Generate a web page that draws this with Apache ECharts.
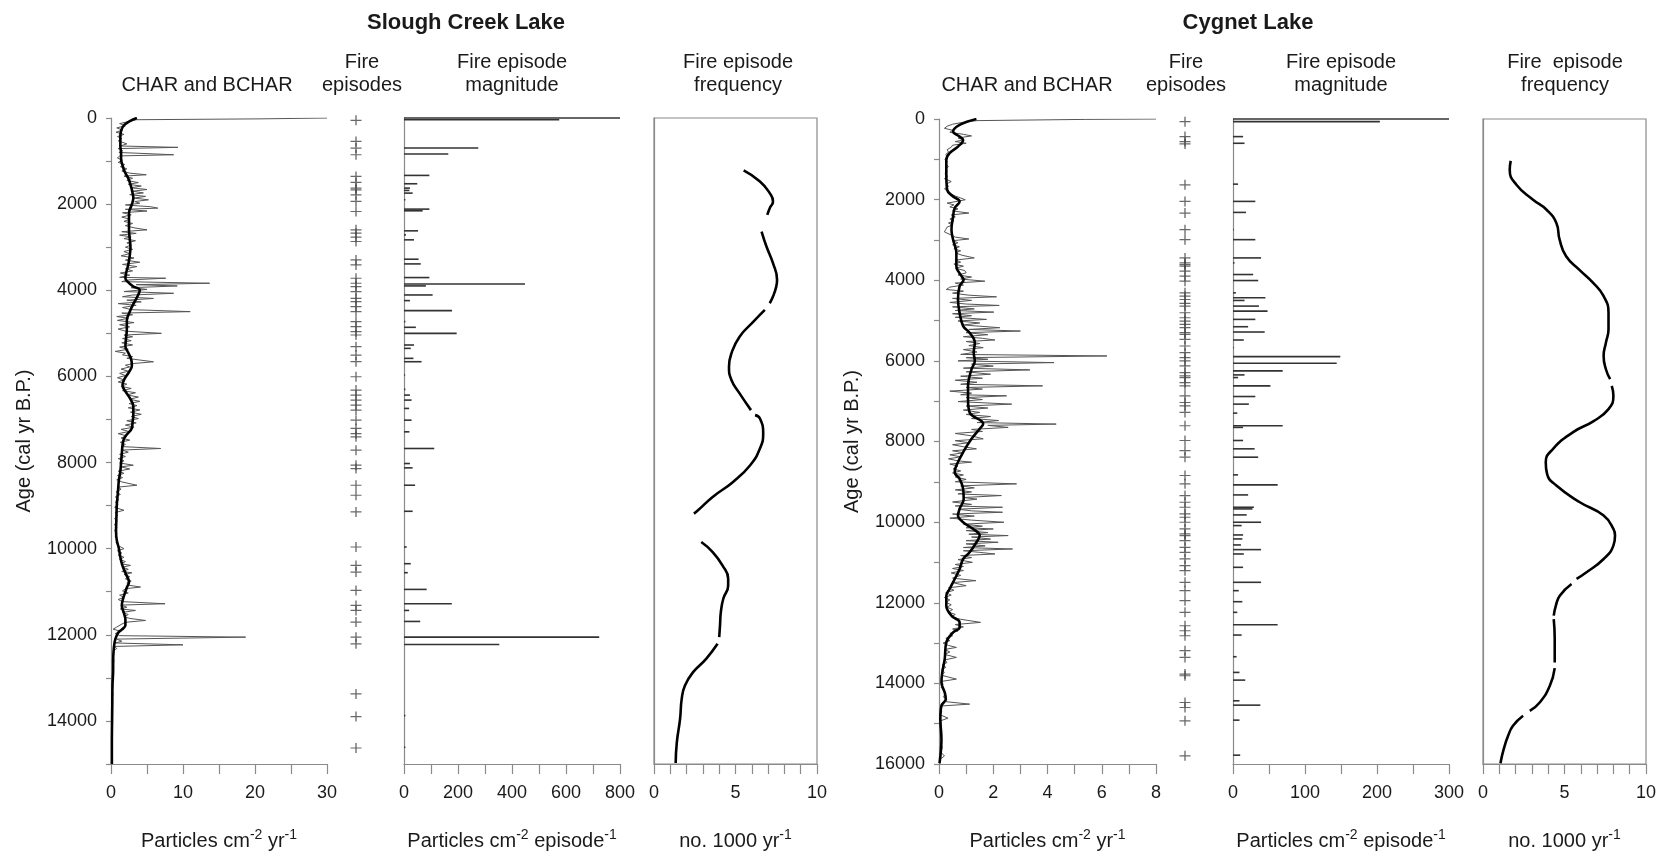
<!DOCTYPE html>
<html lang="en">
<head>
<meta charset="UTF-8">
<title>Slough Creek Lake / Cygnet Lake fire history</title>
<style>
  * { margin: 0; padding: 0; }
  body { background: #fff; }
  #main { width: 1663px; height: 851px; }
</style>
</head>
<body>
<div id="main"></div>
<script src="https://cdn.jsdelivr.net/npm/echarts@6/dist/echarts.min.js"></script>
<script>
// ---- data: [age (cal yr BP), value] ----
var sloughChar = [[0,30],[20,20.7],[40,3.5],[80,2.5],[130,1.2],[180,2.0],[230,0.8],[280,1.6],[330,0.7],[380,1.8],[430,0.9],[480,1.5],[530,1.0],[600,2.2],[650,1.3],[682,9.3],[710,1.0],[760,1.6],[800,1.1],[853,8.7],[880,1.2],[930,0.9],[980,1.6],[1030,1.0],[1080,1.9],[1130,1.3],[1180,2.2],[1230,1.5],[1280,2.6],[1318,4.9],[1350,1.8],[1400,3.0],[1450,2.2],[1500,3.8],[1540,2.4],[1580,4.2],[1620,2.8],[1660,5.0],[1700,3.0],[1740,4.5],[1780,2.6],[1820,4.8],[1860,3.2],[1900,5.2],[1940,3.3],[1980,4.0],[2020,2.0],[2060,5.5],[2093,6.5],[2120,2.0],[2160,5.0],[2200,1.6],[2250,2.8],[2300,1.5],[2350,2.6],[2400,1.8],[2450,3.0],[2500,2.0],[2550,3.2],[2597,5.0],[2640,1.5],[2680,3.5],[2720,1.2],[2760,2.8],[2800,1.8],[2850,3.4],[2900,2.2],[2950,2.8],[3000,2.0],[3050,3.0],[3100,1.8],[3150,2.6],[3200,1.4],[3250,3.2],[3300,2.0],[3350,4.0],[3400,1.6],[3450,3.6],[3500,2.0],[3550,3.0],[3600,1.3],[3650,2.6],[3700,1.2],[3720,7.6],[3760,2.5],[3800,1.5],[3837,13.7],[3870,3.5],[3900,9.2],[3940,2.8],[3980,5.0],[4030,1.8],[4070,8.7],[4110,3.0],[4150,1.6],[4190,5.9],[4230,2.2],[4270,4.2],[4310,1.0],[4350,3.5],[4400,1.6],[4450,2.8],[4496,11.0],[4530,1.5],[4570,3.0],[4610,0.8],[4650,2.4],[4700,0.9],[4750,3.2],[4800,1.2],[4850,2.6],[4900,1.0],[4950,2.0],[5000,7.0],[5040,1.8],[5080,3.0],[5120,1.6],[5170,2.8],[5220,1.5],[5270,3.0],[5320,1.2],[5370,2.4],[5420,0.6],[5460,2.0],[5500,1.6],[5540,3.0],[5580,2.2],[5620,4.0],[5660,5.9],[5700,3.2],[5740,2.0],[5780,2.6],[5830,1.4],[5880,2.4],[5930,1.2],[5980,2.0],[6030,0.9],[6080,1.8],[6130,1.0],[6180,2.2],[6230,1.4],[6280,2.8],[6330,1.6],[6380,3.4],[6430,2.2],[6480,3.8],[6530,2.6],[6580,4.0],[6630,2.5],[6680,3.6],[6730,2.4],[6780,4.0],[6830,2.7],[6880,4.2],[6930,2.8],[6980,3.8],[7030,2.2],[7080,3.5],[7130,2.0],[7180,3.2],[7230,1.4],[7280,2.5],[7330,1.0],[7380,2.2],[7430,1.4],[7480,2.6],[7530,1.3],[7580,2.0],[7630,1.5],[7674,6.9],[7710,1.6],[7760,2.4],[7810,1.2],[7860,2.0],[7910,1.0],[7960,1.8],[8010,1.2],[8062,3.1],[8100,1.4],[8150,2.6],[8200,1.0],[8250,1.8],[8300,0.9],[8350,1.6],[8400,0.8],[8450,1.5],[8527,3.6],[8570,1.0],[8620,1.4],[8680,0.7],[8740,1.3],[8800,0.6],[8860,1.1],[8920,0.6],[8980,1.0],[9040,0.5],[9108,1.8],[9160,0.6],[9230,0.9],[9300,0.5],[9370,0.8],[9440,0.5],[9510,0.8],[9580,0.5],[9650,0.8],[9720,0.6],[9790,0.9],[9860,0.7],[9930,1.0],[10000,1.8],[10050,0.9],[10100,1.5],[10150,1.0],[10200,1.8],[10250,1.2],[10300,2.0],[10350,1.4],[10388,2.7],[10430,1.6],[10480,2.4],[10530,1.5],[10560,2.9],[10600,1.8],[10650,2.6],[10700,2.0],[10750,2.8],[10800,2.2],[10850,2.5],[10891,4.1],[10930,2.0],[10980,1.6],[11030,2.4],[11080,1.2],[11130,1.8],[11180,1.0],[11230,1.6],[11279,7.5],[11310,1.4],[11360,2.2],[11400,1.3],[11434,3.4],[11480,1.6],[11530,2.4],[11580,1.8],[11620,2.6],[11667,4.8],[11710,2.0],[11760,1.4],[11820,0.8],[11870,0.3],[11920,1.4],[11970,0.6],[12020,1.2],[12054,18.7],[12100,0.8],[12150,1.5],[12190,0.6],[12233,10.0],[12270,0.5],[12320,0.8],[12370,0.3],[12440,0.4],[12520,0.3],[12600,0.4],[12700,0.3],[12800,0.35],[12900,0.25],[13000,0.3],[13100,0.2],[13200,0.25],[13300,0.2],[13400,0.25],[13500,0.15],[13600,0.2],[13700,0.15],[13800,0.2],[13900,0.12],[14000,0.15],[14150,0.1],[14300,0.15],[14450,0.1],[14600,0.12],[14750,0.1],[14900,0.1],[15000,0.1]];

var sloughBchar = [[0,3.6],[150,1.9],[300,1.4],[450,1.3],[650,1.3],[800,1.4],[950,1.4],[1100,1.6],[1250,1.9],[1400,2.4],[1600,2.8],[1750,3.0],[1850,3.1],[1950,3.0],[2050,2.8],[2200,2.5],[2400,2.5],[2600,2.5],[2800,2.6],[3000,2.7],[3200,2.6],[3400,2.4],[3600,2.1],[3720,2.0],[3800,2.3],[3900,3.0],[4000,4.0],[4100,3.8],[4200,3.5],[4350,3.0],[4500,2.6],[4700,2.2],[4900,2.2],[5100,2.1],[5300,2.0],[5450,2.4],[5600,2.8],[5750,2.9],[5900,2.5],[6050,1.9],[6200,1.6],[6350,2.0],[6500,2.6],[6700,3.1],[6900,3.1],[7050,3.0],[7200,2.9],[7350,2.2],[7450,1.8],[7600,1.6],[7800,1.5],[8000,1.4],[8200,1.3],[8400,1.1],[8600,1.0],[8800,0.9],[9000,0.8],[9300,0.75],[9600,0.7],[9800,0.8],[10000,1.1],[10200,1.3],[10400,1.6],[10600,2.1],[10780,2.5],[10900,2.2],[11000,2.0],[11150,1.7],[11320,1.5],[11500,1.8],[11650,2.0],[11780,2.0],[11880,1.5],[11950,1.0],[12100,0.6],[12300,0.4],[12600,0.3],[12800,0.3],[13200,0.2],[13600,0.18],[14000,0.15],[14500,0.12],[15000,0.12]];

var sloughEpisodes = [54,543,698,853,1357,1496,1628,1667,1783,1938,2171,2597,2674,2767,2868,3295,3411,3721,3837,3915,4031,4186,4264,4380,4496,4729,4845,4961,5039,5310,5504,5659,6008,6318,6434,6550,6667,6783,7016,7209,7330,7403,7713,8062,8140,8527,8760,9147,9961,10388,10543,10969,11318,11434,11705,12054,12209,13372,13899,14628];

var sloughMag = [[0,800],[39,575],[698,275],[837,164],[1333,94],[1527,49],[1628,22],[1682,20],[1744,32],[1899,5],[2116,94],[2155,69],[2620,52],[2713,7],[2829,37],[3279,54],[3388,62],[3705,94],[3853,448],[3899,81],[4109,106],[4240,22],[4473,178],[4729,5],[4860,44],[5000,195],[5271,37],[5349,25],[5581,35],[5659,65],[5969,4],[6302,5],[6434,22],[6550,28],[6744,19],[7016,28],[7287,20],[7674,112],[8023,22],[8124,32],[8527,41],[9132,32],[9961,10],[10349,25],[10558,14],[10946,84],[11279,177],[11434,19],[11690,60],[12054,723],[12225,353],[13876,5],[14612,5]];

var sloughFreq = [
  [[1217,5.5],[1473,6.5],[1744,7.1],[1938,7.3],[2093,7.1],[2248,6.95]],
  [[2636,6.6],[2984,6.9],[3372,7.3],[3760,7.55],[3915,7.5],[4147,7.3],[4302,7.1]],
  [[4457,6.8],[4729,6.1],[5078,5.25],[5465,4.75],[5775,4.6],[6085,4.75],[6395,5.25],[6783,5.95]],
  [[6899,6.2],[6977,6.5],[7326,6.7],[7674,6.5],[8062,5.9],[8450,4.85],[8798,3.6],[9108,2.7],[9186,2.45]],
  [[9845,2.9],[10078,3.6],[10388,4.2],[10698,4.55],[10853,4.55],[11163,4.25],[11473,4.1],[11783,4.05],[12054,4.0]],
  [[12209,3.9],[12558,3.2],[12868,2.4],[13178,1.9],[13488,1.7],[13953,1.6],[14496,1.4],[14977,1.33]]
];

var cygnetChar = [[0,8],[10,5.39],[40,1.4],[80,0.9],[130,0.5],[180,0.3],[231,0.2],[280,0.5],[330,0.4],[380,0.9],[420,1.2],[470,0.7],[520,0.9],[560,0.6],[602,1.0],[650,0.5],[700,0.45],[760,0.3],[820,0.35],[880,0.25],[940,0.3],[1000,0.22],[1060,0.3],[1120,0.25],[1180,0.35],[1240,0.25],[1300,0.3],[1360,0.22],[1420,0.32],[1480,0.2],[1550,0.45],[1610,0.28],[1670,0.35],[1730,0.2],[1790,0.3],[1850,0.4],[1910,0.6],[1960,0.8],[2003,0.97],[2040,0.7],[2086,0.3],[2130,0.55],[2180,0.4],[2230,0.7],[2280,0.5],[2333,1.1],[2380,0.45],[2430,0.6],[2480,0.4],[2530,0.55],[2580,0.35],[2630,0.5],[2680,0.3],[2740,0.25],[2800,0.2],[2880,0.45],[2930,0.6],[2976,1.1],[3020,0.5],[3070,0.7],[3120,0.5],[3170,0.75],[3220,0.55],[3270,0.8],[3320,0.6],[3380,0.85],[3446,1.3],[3500,0.6],[3550,0.8],[3600,0.55],[3650,0.9],[3700,0.6],[3760,0.95],[3817,1.0],[3870,0.7],[3920,1.2],[3970,0.8],[4023,1.69],[4070,0.6],[4120,0.9],[4170,0.4],[4229,0.27],[4270,0.9],[4320,0.5],[4370,1.1],[4411,2.12],[4450,0.5],[4500,1.2],[4550,0.4],[4590,1.0],[4625,2.22],[4660,0.5],[4710,1.3],[4750,0.6],[4790,2.02],[4830,0.5],[4880,1.2],[4920,0.6],[4971,1.75],[5010,0.7],[5060,1.5],[5110,0.9],[5177,2.24],[5220,1.1],[5260,3.0],[5300,1.0],[5350,1.8],[5400,0.9],[5440,1.6],[5482,2.06],[5520,1.0],[5570,1.5],[5620,1.1],[5672,1.63],[5720,0.9],[5780,1.4],[5840,0.8],[5878,6.19],[5920,1.0],[5960,1.8],[6000,0.7],[6043,4.24],[6080,1.2],[6130,2.0],[6180,0.9],[6224,3.35],[6270,1.0],[6331,1.9],[6380,0.8],[6430,1.6],[6480,0.6],[6530,1.4],[6580,0.8],[6620,3.82],[6660,1.0],[6700,1.6],[6750,0.4],[6800,1.2],[6840,0.8],[6867,2.49],[6910,1.0],[6960,1.6],[7010,0.7],[7073,2.68],[7120,1.0],[7170,1.8],[7220,0.9],[7279,1.5],[7330,1.0],[7380,1.9],[7430,1.2],[7480,2.2],[7530,1.4],[7568,4.32],[7600,1.8],[7650,2.55],[7700,1.2],[7750,1.6],[7800,0.6],[7860,1.2],[7934,1.63],[7980,0.6],[8030,1.1],[8080,0.5],[8130,0.9],[8182,1.38],[8230,0.5],[8280,0.9],[8330,0.4],[8380,0.8],[8430,0.35],[8480,0.7],[8513,1.2],[8560,0.4],[8610,0.7],[8679,0.52],[8730,0.8],[8780,0.5],[8830,0.9],[8880,0.6],[8940,1.0],[9000,0.6],[9051,2.86],[9100,0.8],[9150,1.3],[9200,0.6],[9250,1.2],[9300,0.7],[9341,2.3],[9390,0.9],[9430,1.4],[9465,1.38],[9500,0.5],[9560,1.2],[9600,0.6],[9631,2.34],[9680,0.7],[9720,1.2],[9755,2.34],[9800,0.5],[9850,1.3],[9900,0.4],[9950,1.2],[10003,2.39],[10050,0.9],[10100,1.6],[10140,1.0],[10169,2.0],[10210,1.0],[10260,1.8],[10300,1.1],[10334,2.55],[10370,1.2],[10420,1.9],[10460,1.0],[10500,2.18],[10540,1.0],[10590,1.7],[10630,0.9],[10666,2.71],[10710,0.9],[10750,1.5],[10790,2.06],[10830,0.8],[10880,1.2],[10930,0.7],[10997,1.23],[11050,0.6],[11100,0.9],[11150,0.5],[11200,0.9],[11260,0.45],[11320,0.8],[11390,0.5],[11452,1.36],[11500,0.5],[11576,1.0],[11630,0.35],[11690,0.55],[11750,0.25],[11810,0.45],[11870,0.2],[11930,0.4],[11990,0.25],[12050,0.45],[12110,0.3],[12170,0.5],[12230,0.35],[12290,0.6],[12350,0.45],[12410,0.8],[12487,1.53],[12540,0.6],[12600,0.9],[12650,0.5],[12700,0.7],[12760,0.4],[12820,0.5],[12880,0.25],[12940,0.4],[13000,0.15],[13060,0.35],[13108,0.64],[13160,0.2],[13220,0.4],[13280,0.2],[13356,0.64],[13420,0.2],[13480,0.3],[13540,0.12],[13600,0.25],[13660,0.1],[13720,0.2],[13800,0.1],[13894,0.64],[13950,0.1],[14020,0.15],[14100,0.08],[14180,0.2],[14260,0.25],[14330,0.15],[14400,0.3],[14450,0.2],[14515,1.13],[14560,0.1],[14630,0.08],[14700,0.1],[14780,0.05],[14863,0.33],[14930,0.05],[15000,0.08],[15100,0.05],[15200,0.1],[15300,0.06],[15400,0.1],[15500,0.08],[15600,0.12],[15700,0.06],[15800,0.2],[15880,0.05],[16000,0.03]];

var cygnetBchar = [[0,1.38],[148,0.76],[313,0.52],[437,0.76],[519,0.89],[684,0.70],[849,0.39],[1014,0.27],[1344,0.27],[1756,0.30],[1921,0.52],[2044,0.76],[2209,0.58],[2415,0.52],[2745,0.46],[2993,0.52],[3322,0.64],[3652,0.64],[3900,0.83],[3982,0.91],[4147,0.76],[4477,0.70],[4806,0.76],[5136,0.89],[5301,1.13],[5548,1.32],[5796,1.28],[6002,1.32],[6208,1.2],[6620,1.07],[6950,1.07],[7279,1.13],[7561,1.63],[7685,1.5],[7934,1.2],[8265,0.89],[8596,0.64],[8762,0.58],[8927,0.76],[9175,0.89],[9424,0.91],[9672,0.76],[9838,0.70],[10003,0.89],[10169,1.26],[10334,1.5],[10500,1.38],[10748,1.13],[10914,0.89],[11162,0.76],[11411,0.58],[11659,0.39],[11825,0.27],[12073,0.27],[12321,0.46],[12487,0.76],[12611,0.76],[12735,0.52],[12983,0.27],[13397,0.21],[13728,0.12],[13977,0.09],[14225,0.21],[14391,0.25],[14556,0.09],[14887,0.05],[15384,0.09],[15980,0.02]];

var cygnetEpisodes = [66,437,561,618,1632,2044,2333,2745,2993,3446,3570,3611,3652,3776,3900,4023,4312,4394,4477,4575,4641,4806,4930,5012,5095,5177,5301,5342,5466,5631,5796,5919,6002,6125,6290,6373,6414,6538,6620,6867,7032,7115,7279,7609,7975,8224,8389,8844,9051,9341,9507,9631,9796,9879,10003,10169,10293,10334,10459,10624,10748,10914,11079,11204,11493,11700,11949,12238,12570,12694,12818,13190,13356,13770,13811,14474,14598,14929,15798];

var cygnetMag = [[0,300],[66,204],[437,14],[602,16],[1616,7],[2044,31],[2317,18],[2745,1],[2993,31],[3446,39],[3570,2],[3858,28],[4007,35],[4312,4],[4435,45],[4501,16],[4641,36],[4765,48],[4971,31],[5153,21],[5284,44],[5482,15],[5672,1],[5894,149],[6059,144],[6249,69],[6348,16],[6414,7],[6620,52],[6884,31],[7073,22],[7296,6],[7609,69],[7650,14],[7975,14],[8182,30],[8389,35],[8828,7],[9076,62],[9325,21],[9631,29],[9672,27],[9821,19],[10003,39],[10086,12],[10318,14],[10417,13],[10566,11],[10682,39],[10790,15],[11121,14],[11493,39],[11700,8],[11974,13],[12238,6],[12545,62],[12801,12],[13339,5],[13728,9],[13919,17],[14432,9],[14540,38],[14912,9],[15781,10]];

var cygnetFreq = [
  [[1039,1.7],[1261,1.64],[1632,2.05],[2003,3.07],[2251,3.9],[2580,4.5],[2993,4.7],[3405,5.1],[3735,5.9],[4064,6.76],[4394,7.4],[4806,7.7],[5218,7.7],[5548,7.54],[5878,7.4],[6208,7.54],[6455,7.8]],
  [[6620,7.9],[6867,8.0],[7197,7.7],[7500,6.76],[7768,5.53],[8182,4.3],[8513,3.85],[8803,3.93],[9093,4.5],[9507,5.94],[9838,7.4],[10169,8.0],[10334,8.1],[10583,8.0],[10914,7.4],[11245,6.35],[11410,5.74]],
  [[11535,5.43],[11825,4.71],[12073,4.47],[12321,4.34]],
  [[12404,4.34],[12901,4.4],[13480,4.4]],
  [[13620,4.4],[14060,4.1],[14474,3.48],[14680,2.87]],
  [[14805,2.46],[15053,1.84],[15301,1.54],[15632,1.27],[15980,1.07]]
];

var FONT = 'Liberation Sans, Arial, sans-serif';
var AXIS_GREY = '#8a8a8a';
var TEXT = '#1a1a1a';

function flip(d) { return [d[1], d[0]]; }

var supRich = {
  sup: { fontSize: 14, lineHeight: 14, verticalAlign: 'top', fontFamily: FONT, color: TEXT }
};

function xAxisFor(gi, max, interval, labelEvery, name) {
  return {
    type: 'value', gridIndex: gi, min: 0, max: max, interval: interval, position: 'bottom',
    axisLine: { show: true, onZero: false, lineStyle: { color: AXIS_GREY, width: 1.2 } },
    axisTick: { show: true, inside: false, length: 10, lineStyle: { color: AXIS_GREY, width: 1.2 } },
    axisLabel: {
      margin: 20, fontSize: 18, color: TEXT, fontFamily: FONT,
      formatter: function (v) { return v % labelEvery === 0 ? String(v) : ''; }
    },
    splitLine: { show: false },
    name: name, nameLocation: 'middle', nameGap: 64,
    nameTextStyle: { fontSize: 20, lineHeight: 26, color: TEXT, fontFamily: FONT, rich: supRich }
  };
}

function yAxisFor(gi, max, opts) {
  var ax = {
    type: 'value', gridIndex: gi, min: 0, max: max, interval: 1000, inverse: true,
    axisLine: { show: true, onZero: false, lineStyle: { color: AXIS_GREY, width: 1.2 } },
    axisTick: { show: !!opts.ticks, inside: false, length: 5, lineStyle: { color: AXIS_GREY, width: 1.2 } },
    axisLabel: {
      show: !!opts.labels, margin: 14, fontSize: 18, color: TEXT, fontFamily: FONT,
      formatter: function (v) { return v % 2000 === 0 ? String(v) : ''; }
    },
    splitLine: { show: false }
  };
  if (opts.name) {
    ax.name = 'Age (cal yr B.P.)';
    ax.nameLocation = 'middle';
    ax.nameGap = 77;
    ax.nameTextStyle = { fontSize: 20, color: TEXT, fontFamily: FONT };
  }
  return ax;
}

function hiddenAxis(gi, max, inverse) {
  return { type: 'value', gridIndex: gi, min: 0, max: max, inverse: !!inverse, show: false };
}

function charSeries(gi, data) {
  return { type: 'line', xAxisIndex: gi, yAxisIndex: gi, data: data.map(flip), symbol: 'none',
    lineStyle: { color: '#555', width: 1 }, clip: true, silent: true, z: 2 };
}
function bcharSeries(gi, data) {
  return { type: 'line', xAxisIndex: gi, yAxisIndex: gi, data: data.map(flip), symbol: 'none',
    smooth: 0.4, lineStyle: { color: '#000', width: 2.6 }, silent: true, z: 3 };
}
function episodeSeries(gi, ages) {
  return { type: 'scatter', xAxisIndex: gi, yAxisIndex: gi,
    data: ages.map(function (a) { return [1, a]; }),
    symbol: 'path://M0,4.4h10v1.2h-10z M4.4,0h1.2v10h-1.2z', symbolSize: [11, 10],
    itemStyle: { color: '#444' }, silent: true };
}
function magSeries(gi, data) {
  return { type: 'custom', xAxisIndex: gi, yAxisIndex: gi, data: data.map(flip), silent: true,
    renderItem: function (params, api) {
      var a = api.coord([0, api.value(1)]);
      var b = api.coord([api.value(0), api.value(1)]);
      return { type: 'line', shape: { x1: a[0], y1: a[1], x2: b[0], y2: b[1] },
        style: { stroke: '#333', lineWidth: 1.6 } };
    } };
}
function freqSeries(gi, segs) {
  return segs.map(function (seg) {
    return { type: 'line', xAxisIndex: gi, yAxisIndex: gi, data: seg.map(flip), symbol: 'none',
      smooth: 0.5, lineStyle: { color: '#000', width: 2.6 }, silent: true };
  });
}

var boxStyle = { show: true, borderColor: AXIS_GREY, borderWidth: 1.2, backgroundColor: 'transparent' };
function g(left, top, width, height, box) {
  var o = { left: left, top: top, width: width, height: height, containLabel: false, outerBoundsMode: 'none' };
  return box ? Object.assign(o, boxStyle) : o;
}
var grids = [
  g(111, 118, 216, 646),
  g(346, 118, 20, 646),
  g(404, 118, 216, 646),
  g(654, 118, 163, 646, true),
  g(939, 119, 217, 645),
  g(1175, 119, 20, 645),
  g(1233, 119, 216, 645),
  g(1483, 119, 163, 645, true)
];

var cm = 'Particles cm{sup|-2} yr{sup|-1}';
var ep = 'Particles cm{sup|-2} episode{sup|-1}';
var fq = 'no. 1000 yr{sup|-1}';

var xAxes = [
  xAxisFor(0, 30, 5, 10, cm),
  hiddenAxis(1, 2),
  xAxisFor(2, 800, 100, 200, ep),
  xAxisFor(3, 10, 1, 5, fq),
  xAxisFor(4, 8, 1, 2, cm),
  hiddenAxis(5, 2),
  xAxisFor(6, 300, 50, 100, ep),
  xAxisFor(7, 10, 1, 5, fq)
];
var yAxes = [
  yAxisFor(0, 15000, { labels: true, ticks: true, name: true }),
  hiddenAxis(1, 15000, true),
  yAxisFor(2, 15000, {}),
  yAxisFor(3, 15000, {}),
  yAxisFor(4, 16000, { labels: true, ticks: true, name: true }),
  hiddenAxis(5, 16000, true),
  yAxisFor(6, 16000, {}),
  yAxisFor(7, 16000, {})
];

var series = [
  charSeries(0, sloughChar), bcharSeries(0, sloughBchar),
  episodeSeries(1, sloughEpisodes),
  magSeries(2, sloughMag),
  charSeries(4, cygnetChar), bcharSeries(4, cygnetBchar),
  episodeSeries(5, cygnetEpisodes),
  magSeries(6, cygnetMag)
].concat(freqSeries(3, sloughFreq)).concat(freqSeries(7, cygnetFreq));

function txt(x, y, s, size, bold) {
  return { type: 'text', x: x, y: y, silent: true,
    style: { text: s, fill: TEXT, font: (bold ? 'bold ' : '') + size + 'px ' + FONT,
      align: 'center', verticalAlign: 'middle', textAlign: 'center', textVerticalAlign: 'middle' } };
}

var headers = [
  txt(466, 23, 'Slough Creek Lake', 22, true),
  txt(1248, 23, 'Cygnet Lake', 22, true),
  txt(207, 85, 'CHAR and BCHAR', 20), txt(362, 62, 'Fire', 20), txt(362, 85, 'episodes', 20),
  txt(512, 62, 'Fire episode', 20), txt(512, 85, 'magnitude', 20),
  txt(738, 62, 'Fire episode', 20), txt(738, 85, 'frequency', 20),
  txt(1027, 85, 'CHAR and BCHAR', 20), txt(1186, 62, 'Fire', 20), txt(1186, 85, 'episodes', 20),
  txt(1341, 62, 'Fire episode', 20), txt(1341, 85, 'magnitude', 20),
  txt(1565, 62, 'Fire  episode', 20), txt(1565, 85, 'frequency', 20)
];

var chart = echarts.init(document.getElementById('main'));
chart.setOption({
  animation: false,
  backgroundColor: '#fff',
  textStyle: { fontFamily: FONT },
  grid: grids,
  xAxis: xAxes,
  yAxis: yAxes,
  series: series,
  graphic: headers
});
</script>
</body>
</html>
